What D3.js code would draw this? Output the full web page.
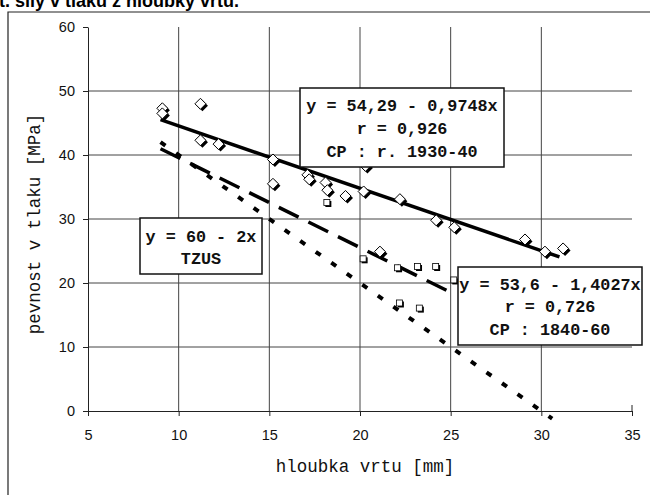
<!DOCTYPE html>
<html>
<head>
<meta charset="utf-8">
<script src="https://cdn.jsdelivr.net/npm/d3@7"></script>
<style>
  body { margin: 0; background: #fff; }
  svg { display: block; }
  .tick text { font-family: Arial, "Liberation Sans", sans-serif; font-size: 14.5px; fill: #111; }
  .mono { font-family: "Courier New", "Liberation Mono", monospace; fill: #111; }
</style>
</head>
<body>
<script>
const W = 650, H = 495

// hloubka vrtu [mm] / pevnost v tlaku [MPa]
// CP r. 1930-40 (diamonds)
const depth1930 = [9.1, 9.1, 11.2, 11.2, 12.2, 15.2, 15.2, 17.1, 17.2, 18.1, 18.2, 19.2, 20.2, 20.3, 21.1, 22.2, 24.2, 25.2, 29.1, 30.2, 31.2]
const strength1930 = [47.3, 46.5, 48.0, 42.3, 41.7, 39.3, 35.5, 36.9, 36.2, 35.7, 34.5, 33.6, 34.3, 38.3, 24.9, 33.1, 29.8, 28.7, 26.8, 24.9, 25.4]
// CP 1840-60 (small squares)
const depth1840 = [18.2, 20.2, 22.1, 23.2, 24.2, 25.2, 22.2, 23.3]
const strength1840 = [32.5, 23.7, 22.3, 22.5, 22.5, 20.4, 16.8, 16.0]

// regression lines y = a + b*x
const lineNames = ['1930-40', '1840-60', 'TZUS']
const lineA = [54.29, 53.6, 60]
const lineB = [-0.9748, -1.4027, -2]
const lineFrom = [9, 9, 9]
const lineTo = [31, 25.2, 30.6]

// label boxes
const box1930 = ['y = 54,29 - 0,9748x', 'r = 0,926', 'CP : r. 1930-40']
const box1840 = ['y = 53,6 - 1,4027x', 'r = 0,726', 'CP : 1840-60']
const boxTzus = ['y = 60 - 2x', 'TZUS']

const xTicks = [5, 10, 15, 20, 25, 30, 35]
const yTicks = [0, 10, 20, 30, 40, 50, 60]

const svg = d3.select('body').append('svg')
  .attr('width', W)
  .attr('height', H)

const x = d3.scaleLinear().domain([5, 35]).range([88, 632])
const y = d3.scaleLinear().domain([0, 60]).range([411, 27])

// cut-off title (scan) and frame
svg.append('text')
  .attr('x', -1).attr('y', 7)
  .style('font-family', 'Arial, "Liberation Sans", sans-serif')
  .style('font-size', '18px').style('font-weight', 'bold')
  .text('t. síly v tlaku z hloubky vrtu.')

svg.append('path')
  .attr('d', `M8,${H + 2}V12H${W + 2}`)
  .attr('fill', 'none').attr('stroke', '#222').attr('stroke-width', 1.2)

// grid
const grid = svg.append('g').attr('stroke', '#444').attr('stroke-width', 1)
grid.selectAll('line.v').data(xTicks.filter(d => d > 5 && d < 35)).join('line')
  .attr('class', 'v')
  .attr('x1', d => x(d)).attr('x2', d => x(d))
  .attr('y1', y(0)).attr('y2', y(60))
grid.selectAll('line.h').data(yTicks.filter(d => d > 0 && d < 60)).join('line')
  .attr('class', 'h')
  .attr('x1', x(5)).attr('x2', x(35))
  .attr('y1', d => y(d)).attr('y2', d => y(d))

// axes
const gx = svg.append('g')
  .attr('transform', `translate(0,${y(0)})`)
  .call(d3.axisBottom(x).tickValues(xTicks).tickSize(5).tickPadding(14).tickSizeOuter(0))
gx.select('.domain').attr('stroke', '#222')
gx.selectAll('.tick line').attr('stroke', '#222')
gx.append('line').attr('x1', x(35)).attr('x2', x(35)).attr('y1', 0).attr('y2', -6).attr('stroke', '#222')

const gy = svg.append('g')
  .attr('transform', `translate(${x(5)},0)`)
  .call(d3.axisLeft(y).tickValues(yTicks).tickSize(5).tickPadding(8).tickSizeOuter(0))
gy.select('.domain').attr('stroke', '#222')
gy.selectAll('.tick line').attr('stroke', '#222')

// axis titles
svg.append('text').attr('class', 'mono')
  .attr('x', 365).attr('y', 472)
  .attr('text-anchor', 'middle')
  .style('font-size', '17.5px')
  .text('hloubka vrtu [mm]')

svg.append('text').attr('class', 'mono')
  .attr('transform', 'translate(40,224) rotate(-90)')
  .attr('text-anchor', 'middle')
  .style('font-size', '17.5px')
  .text('pevnost v tlaku [MPa]')

// regression lines
const dashes = [null, '22,11', '6,13']
const widths = [3.5, 3.5, 4]
lineNames.forEach((name, i) => {
  svg.append('line')
    .attr('x1', x(lineFrom[i])).attr('y1', y(lineA[i] + lineB[i] * lineFrom[i]))
    .attr('x2', x(lineTo[i])).attr('y2', y(lineA[i] + lineB[i] * lineTo[i]))
    .attr('stroke', '#000')
    .attr('stroke-width', widths[i])
    .attr('stroke-dasharray', dashes[i])
})

// markers
const pts1930 = depth1930.map((d, i) => ({x: d, y: strength1930[i]}))
const pts1840 = depth1840.map((d, i) => ({x: d, y: strength1840[i]}))

const diamond = (s) => `M0,${-s}L${s},0L0,${s}L${-s},0Z`
const m1 = svg.append('g')
m1.selectAll('path.sh').data(pts1930).join('path')
  .attr('class', 'sh')
  .attr('d', diamond(5.5))
  .attr('transform', d => `translate(${x(d.x) + 2},${y(d.y) + 2})`)
  .attr('fill', '#000')
m1.selectAll('path.mk').data(pts1930).join('path')
  .attr('class', 'mk')
  .attr('d', diamond(5.5))
  .attr('transform', d => `translate(${x(d.x)},${y(d.y)})`)
  .attr('fill', '#fff').attr('stroke', '#000').attr('stroke-width', 1)

const m2 = svg.append('g')
m2.selectAll('rect.sh').data(pts1840).join('rect')
  .attr('class', 'sh')
  .attr('x', d => x(d.x) - 2).attr('y', d => y(d.y) - 2)
  .attr('width', 6).attr('height', 6).attr('fill', '#000')
m2.selectAll('rect.mk').data(pts1840).join('rect')
  .attr('class', 'mk')
  .attr('x', d => x(d.x) - 3.5).attr('y', d => y(d.y) - 3.5)
  .attr('width', 6).attr('height', 6)
  .attr('fill', '#fff').attr('stroke', '#000').attr('stroke-width', 0.8)

// label boxes
const drawBox = (lines, left, top, w, h, lineY) => {
  const g = svg.append('g')
  g.append('rect')
    .attr('x', left).attr('y', top).attr('width', w).attr('height', h)
    .attr('fill', '#fff').attr('stroke', '#111').attr('stroke-width', 1.5)
  g.selectAll('text').data(lines).join('text')
    .attr('class', 'mono')
    .attr('x', left + w / 2)
    .attr('y', (d, i) => lineY[i])
    .attr('text-anchor', 'middle')
    .style('font-size', '16.8px')
    .style('font-weight', 'bold')
    .text(d => d)
}
drawBox(box1930, 300, 88, 204, 79, [111, 134, 157])
drawBox(box1840, 458, 267, 184, 78, [290, 312, 335])
drawBox(boxTzus, 140, 218, 122, 56, [242, 264])
</script>
</body>
</html>
